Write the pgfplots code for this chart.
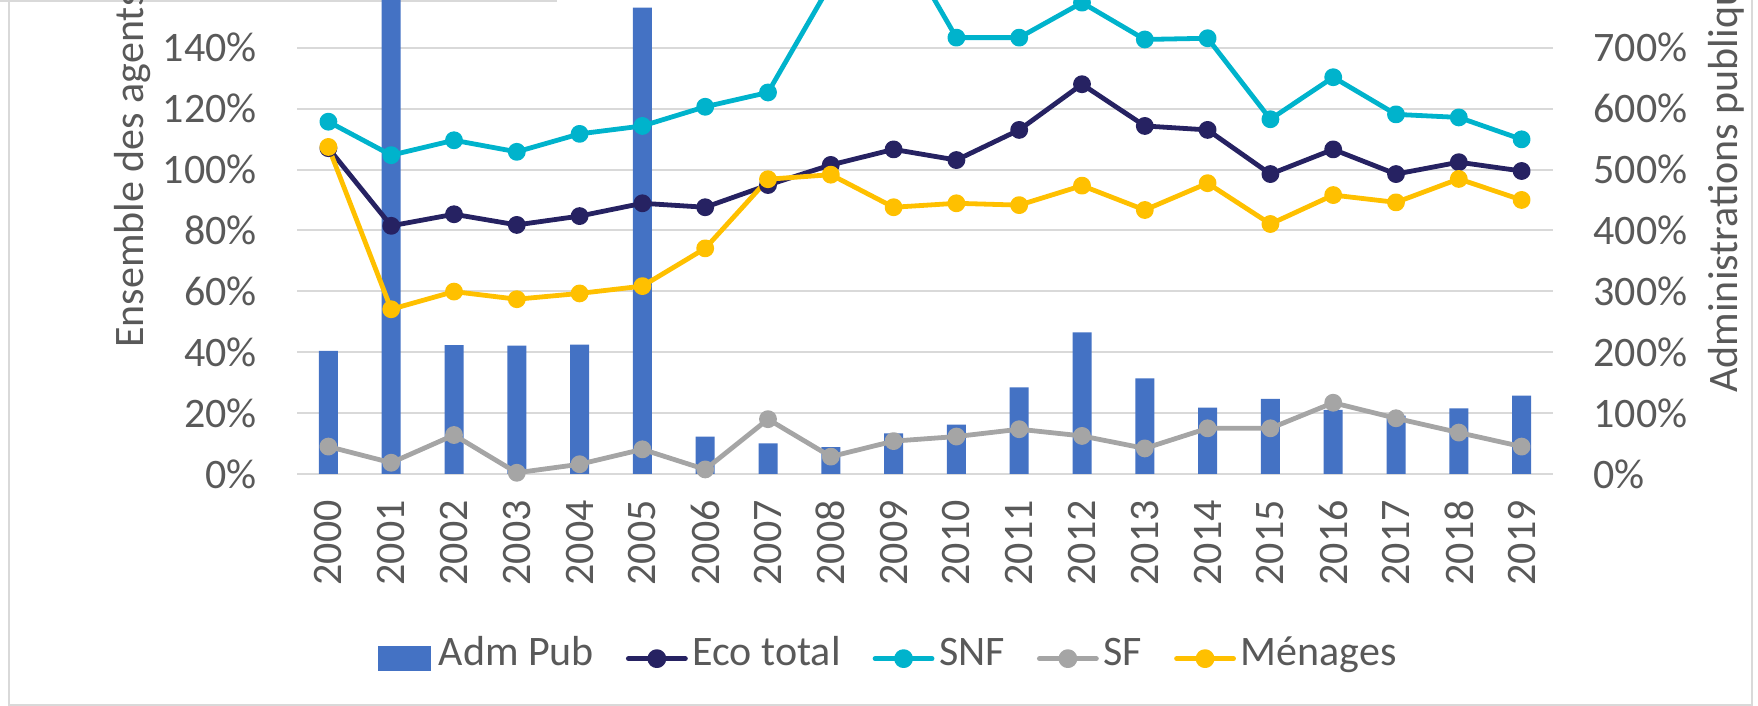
\documentclass[border=0pt]{standalone}
\usepackage{fontspec}
\setmainfont{Carlito}
\usepackage{pgfplots}
\pgfplotsset{compat=1.18}
\definecolor{admblue}{HTML}{4472C4}
\definecolor{ecodark}{HTML}{262262}
\definecolor{snfcyan}{HTML}{00B3CC}
\definecolor{sfgray}{HTML}{A5A5A5}
\definecolor{menyellow}{HTML}{FFC000}
\definecolor{gridgray}{HTML}{D9D9D9}
\definecolor{textgray}{HTML}{595959}
\newcommand\cf{\fontsize{21}{25}\selectfont}
\pgfplotsset{
  lineleg/.style={legend image code/.code={
    \draw[line width=2.4pt, line cap=round, #1] (0pt,0pt) -- (28.5pt,0pt);
    \fill[#1] (14.25pt,0pt) circle (3.5pt);}},
  serie/.style={color=#1, line width=2.4pt, line join=round, mark=*, mark size=3.25pt,
    mark options={draw=none, fill=#1}, lineleg=#1},
  commonaxis/.style={at={(148.5pt,116pt)}, anchor=south west, scale only axis,
    width=628pt, height=243.6pt, xmin=-0.5, xmax=19.5, ymin=0,
    major tick length=0pt, ticklabel style={font=\cf, text=textgray},
    label style={font=\cf, text=textgray}},
}
\begin{document}
\begin{tikzpicture}
\useasboundingbox (0,0) rectangle (879pt,353pt);
\clip (0,0) rectangle (879pt,353pt);
% chart frame
\draw[gridgray, line width=0.8pt] (4.5pt,0pt) -- (4.5pt,353pt);
\draw[gridgray, line width=0.8pt] (4.5pt,0.5pt) -- (876pt,0.5pt);
\draw[gridgray, line width=0.8pt] (876pt,0pt) -- (876pt,353pt);
\draw[gridgray, line width=0.8pt] (0pt,352.6pt) -- (278.5pt,352.6pt);

% bars: Adm Pub on the right axis
\begin{axis}[commonaxis, ymax=800,
  axis y line*=right, hide x axis, y axis line style={draw=none},
  ymajorgrids, grid style={gridgray, line width=1pt},
  ytick={0,100,...,700},
  yticklabels={0\%,100\%,200\%,300\%,400\%,500\%,600\%,700\%},
  yticklabel style={inner sep=0pt, anchor=west}, yticklabel shift=20pt,
  ylabel={Administrations publiques},
  ylabel style={at={(axis description cs:1.1465,0.16626)}, anchor=base west, inner sep=0pt},
]
\addplot[ybar, bar width=9.5pt, bar shift=0pt, fill=admblue, draw=none] coordinates {
(0,202) (1,850) (2,211.8) (3,210.7) (4,212.3) (5,765.7) (6,61.3) (7,50.4) (8,44.3) (9,66.8)
(10,81.0) (11,142.3) (12,232.6) (13,157.1) (14,108.9) (15,123.2) (16,105.1) (17,95.8) (18,107.9) (19,128.6)};
\end{axis}

% lines on the left axis
\begin{axis}[commonaxis, ymax=160,
  axis y line*=left, axis x line*=bottom, axis line style={draw=none},
  ytick={0,20,...,140},
  yticklabels={0\%,20\%,40\%,60\%,80\%,100\%,120\%,140\%},
  yticklabel style={inner sep=0pt, anchor=east}, yticklabel shift=20pt,
  xtick={0,...,19},
  xticklabels={2000,2001,2002,2003,2004,2005,2006,2007,2008,2009,2010,2011,2012,2013,2014,2015,2016,2017,2018,2019},
  xticklabel style={rotate=90, anchor=east, inner sep=0pt}, xticklabel shift=13pt,
  ylabel={Ensemble des agents économiques},
  ylabel style={at={(axis description cs:-0.12221,0.25862)}, anchor=base west, inner sep=0pt},
  legend columns=5,
  legend style={at={(0.4700,-0.3790)}, anchor=center, draw=none, fill=none, inner sep=0pt,
    font=\cf, text=textgray,
    /tikz/every even column/.append style={column sep=16pt},
    /tikz/every odd column/.append style={column sep=2.4pt},
    nodes={inner sep=0pt, text height=0.9em, text depth=0.25em}},
]
\addlegendimage{legend image code/.code={\fill[admblue] (0pt,-6pt) rectangle (26pt,6pt); \path (27.5pt,0pt);}}
\addlegendentry{Adm Pub}
\addplot[serie=ecodark] coordinates {
(0,107.0) (1,81.5) (2,85.3) (3,81.8) (4,84.7) (5,88.9) (6,87.6) (7,94.9) (8,101.5) (9,106.6)
(10,103.1) (11,113.0) (12,128.0) (13,114.3) (14,113.0) (15,98.5) (16,106.6) (17,98.5) (18,102.4) (19,99.5)};
\addlegendentry{Eco total}
\addplot[serie=snfcyan] coordinates {
(0,115.7) (1,104.7) (2,109.6) (3,105.8) (4,111.7) (5,114.3) (6,120.6) (7,125.3) (8,161) (9,179)
(10,143.3) (11,143.3) (12,154.8) (13,142.7) (14,143.1) (15,116.5) (16,130.3) (17,118.1) (18,117.1) (19,109.9)};
\addlegendentry{SNF}
\addplot[serie=sfgray] coordinates {
(0,9.0) (1,3.7) (2,12.8) (3,0.4) (4,3.2) (5,8.1) (6,1.5) (7,18.0) (8,5.7) (9,10.8)
(10,12.3) (11,14.7) (12,12.5) (13,8.4) (14,15.0) (15,15.0) (16,23.4) (17,18.3) (18,13.6) (19,9.0)};
\addlegendentry{SF}
\addplot[serie=menyellow] coordinates {
(0,107.4) (1,54.1) (2,59.9) (3,57.4) (4,59.3) (5,61.7) (6,74.1) (7,96.8) (8,98.3) (9,87.6)
(10,88.9) (11,88.3) (12,94.7) (13,86.7) (14,95.5) (15,82.1) (16,91.6) (17,89.2) (18,96.9) (19,90.0)};
\addlegendentry{Ménages}
\end{axis}
\end{tikzpicture}
\end{document}
